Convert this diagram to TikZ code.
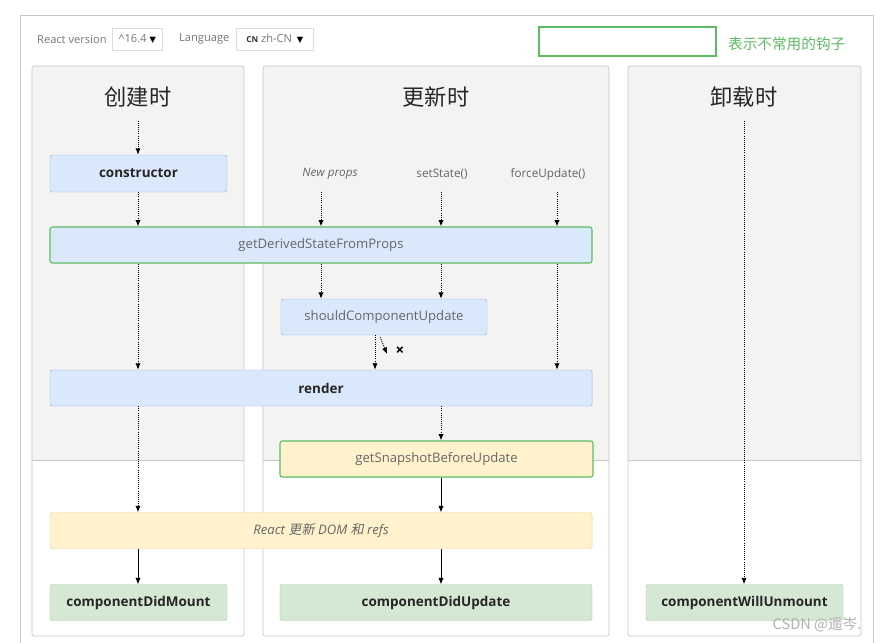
\documentclass[tikz,border=0pt]{standalone}
\usepackage{fontspec}
\setmainfont{Open Sans}
\newfontfamily\cjk{Noto Sans CJK SC}
\newfontfamily\cjkslant[FakeSlant=0.2]{Noto Sans CJK SC}
\newfontfamily\symb{DejaVu Sans}
\usetikzlibrary{arrows.meta}

\definecolor{colbg}{HTML}{F3F4F2}
\definecolor{colline}{HTML}{C6C6C6}
\definecolor{hookblue}{HTML}{DAE8FC}
\definecolor{lineblue}{HTML}{93B3DE}
\definecolor{hookyellow}{HTML}{FFF2CC}
\definecolor{lineyellow}{HTML}{E6D396}
\definecolor{hookgreen}{HTML}{D5E8D4}
\definecolor{linegreen}{HTML}{ABCBA8}
\definecolor{rare}{HTML}{5DBB63}
\definecolor{labelgray}{HTML}{666666}
\definecolor{bartext}{HTML}{777777}

\begin{document}
\begin{tikzpicture}[x=0.03cm,y=-0.03cm,
    hook/.style={rounded corners=2pt,minimum height=1.08cm,inner sep=0pt,
      font=\fontsize{11.2}{13}\selectfont,text=labelgray},
    bluehook/.style={hook,draw=lineblue,fill=hookblue},
    yellowhook/.style={hook,draw=lineyellow,fill=hookyellow},
    greenhook/.style={hook,draw=linegreen,fill=hookgreen},
    rarehook/.style={draw=rare,line width=0.9pt},
    boldlabel/.style={font=\fontsize{11.5}{13}\selectfont\bfseries,text=black!85},
    head/.style={font=\cjk\fontsize{19}{22}\selectfont,text=black!85},
    trigger/.style={font=\fontsize{10}{12}\selectfont,text=labelgray},
    barlabel/.style={anchor=west,font=\fontsize{9.5}{11}\selectfont,text=bartext},
    flow/.style={densely dotted,thick,-{Latex[length=5.5pt,width=4.5pt]}},
    solidflow/.style={semithick,-{Latex[length=5.5pt,width=4.5pt]}}]
				% React lifecycle chart
				\useasboundingbox (0,0) rectangle (891,643);
				\fill[white] (0,0) rectangle (891,643);
				\draw[colline,semithick] (20,643) -- (20,15) -- (873,15) -- (873,643);
				
				\node[barlabel] (VersionLabel) at (33,39) {React version};
				\node[draw=colline!60,anchor=west,minimum width=1.5cm,minimum height=0.66cm,inner sep=1pt,
				  font=\fontsize{9.5}{11}\selectfont,text=bartext] (VersionBox) at (112,39) {\textasciicircum16.4 {\symb\scriptsize\color{black}▼}};
				\node[barlabel] (LangLabel) at (175,39) {Language};
				\node[draw=colline!60,anchor=west,minimum width=2.31cm,minimum height=0.66cm,inner sep=1pt,
				  font=\fontsize{9.5}{11}\selectfont,text=bartext] (LangBox) at (236,39) {{\scriptsize\bfseries\color{black!80}CN} zh-CN\ \,{\symb\scriptsize\color{black}▼}};
				\node[rarehook,line width=1.3pt,minimum width=5.31cm,minimum height=0.87cm] (LegendBox) at (627.5,41.5) {};
				\node[anchor=west,text=rare,font=\cjk\fontsize{12.5}{14}\selectfont] (LegendText) at (724,44) {表示不常用的钩子};
				
				\foreach \l/\r in {32/244,263/609,628/861} {
				  \fill[colbg,rounded corners=2pt] (\l,66) rectangle (\r,460);
				  \draw[colline] (\l,460) -- (\r,460);
				  \draw[colline,semithick,rounded corners=2pt] (\l,66) rectangle (\r,636);
				}
				\node[head] (MountHead) at (138,97) {创建时};
				\node[head] (UpdateHead) at (436,97) {更新时};
				\node[head] (UnmountHead) at (744,97) {卸载时};
				
				\coordinate (LaneM) at (138,0);
				\coordinate (LaneP) at (321,0);
				\coordinate (LaneX) at (375,0);
				\coordinate (LaneS) at (441,0);
				\coordinate (LaneF) at (557,0);
				\coordinate (LaneU) at (744,0);
				
				\node[bluehook,boldlabel,minimum width=5.31cm,minimum height=1.11cm] (Constructor) at (138.5,173.5) {constructor};
				\node[trigger,font=\fontsize{10}{12}\selectfont\itshape] (NewProps) at (330,174) {New props};
				\node[trigger] (SetState) at (442,174) {setState()};
				\node[trigger] (ForceUpdate) at (548,174) {forceUpdate()};
				\node[bluehook,rarehook,minimum width=16.26cm] (DerivedState) at (321,245) {getDerivedStateFromProps};
				\node[bluehook,minimum width=6.18cm] (ShouldUpdate) at (384,317) {shouldComponentUpdate};
				\node[bluehook,boldlabel,minimum width=16.26cm] (Render) at (321,388) {render};
				\node[yellowhook,rarehook,minimum width=9.39cm] (Snapshot) at (436.5,459) {getSnapshotBeforeUpdate};
				\node[yellowhook,font=\fontsize{11.2}{13}\selectfont\itshape,minimum width=16.26cm] (UpdateDom) at (321,530.5) {React {\cjkslant 更新} DOM {\cjkslant 和} refs};
				\node[greenhook,boldlabel,minimum width=5.31cm] (DidMount) at (138.5,602.5) {componentDidMount};
				\node[greenhook,boldlabel,minimum width=9.36cm] (DidUpdate) at (436,602.5) {componentDidUpdate};
				\node[greenhook,boldlabel,minimum width=5.91cm] (WillUnmount) at (744.5,602.5) {componentWillUnmount};
				
				\draw[flow,shorten <=8pt] (LaneM |- MountHead.south) -- (LaneM |- Constructor.north);
				\draw[flow] (LaneM |- Constructor.south) -- (LaneM |- DerivedState.north);
				\draw[flow] (LaneM |- DerivedState.south) -- (LaneM |- Render.north);
				\draw[flow] (LaneM |- Render.south) -- (LaneM |- UpdateDom.north);
				\draw[solidflow] (LaneM |- UpdateDom.south) -- (LaneM |- DidMount.north);
				
				\draw[flow,shorten <=7pt] (LaneP |- NewProps.south) -- (LaneP |- DerivedState.north);
				\draw[flow,shorten <=7pt] (LaneS |- SetState.south) -- (LaneS |- DerivedState.north);
				\draw[flow,shorten <=7pt] (LaneF |- ForceUpdate.south) -- (LaneF |- DerivedState.north);
				\draw[flow] (LaneP |- DerivedState.south) -- (LaneP |- ShouldUpdate.north);
				\draw[flow] (LaneS |- DerivedState.south) -- (LaneS |- ShouldUpdate.north);
				\draw[flow] (LaneF |- DerivedState.south) -- (LaneF |- Render.north);
				\draw[flow] (LaneX |- ShouldUpdate.south) -- (LaneX |- Render.north);
				\coordinate (SkipEnd) at (387,354);
				\draw[flow,shorten <=2pt] ([xshift=-4pt]ShouldUpdate.south) -- (SkipEnd);
				\node[font=\fontsize{13}{14}\selectfont\bfseries] (SkipMark) at (400,351) {×};
				\draw[flow] (LaneS |- Render.south) -- (LaneS |- Snapshot.north);
				\draw[solidflow] (LaneS |- Snapshot.south) -- (LaneS |- UpdateDom.north);
				\draw[solidflow] (LaneS |- UpdateDom.south) -- (LaneS |- DidUpdate.north);
				
				\draw[flow,shorten <=8pt] (LaneU |- UnmountHead.south) -- (LaneU |- WillUnmount.north);
				
				\node[text=black!30,font=\cjk\fontsize{12.5}{14}\selectfont] (Watermark) at (817,625) {CSDN @遥岑.};
				\end{tikzpicture}
\end{document}
